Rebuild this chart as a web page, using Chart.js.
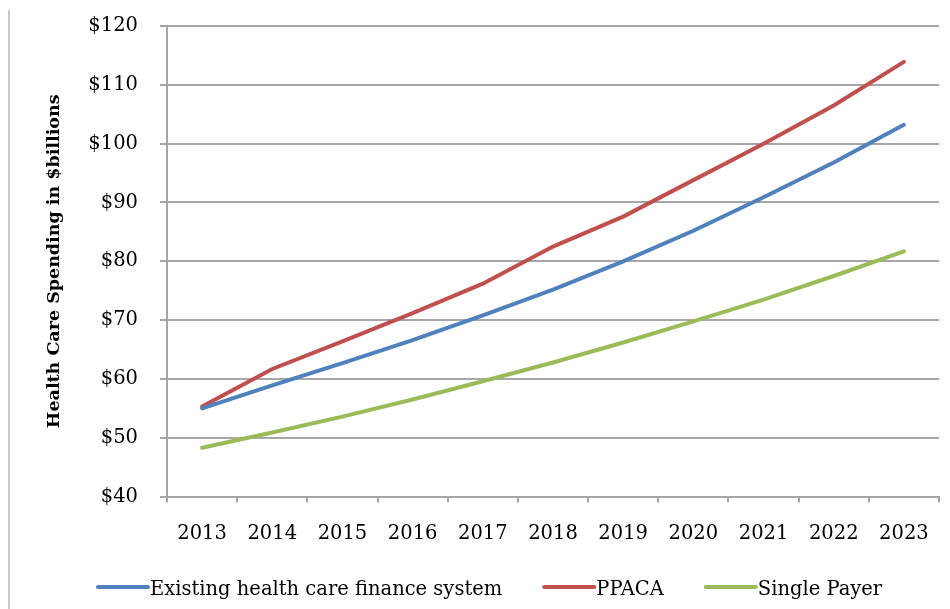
<!DOCTYPE html>
<html>
<head>
<meta charset="utf-8">
<script src="https://cdn.jsdelivr.net/npm/chart.js@4"></script>
<style>
    body { margin: 0; background: #fff; }
    #wrap { position: relative; width: 950px; height: 609px; }
    #frame { position: absolute; left: 8px; top: 10px; bottom: 0; border-left: 2px solid #c8c8c8; }
</style>
</head>
<body>
<div id="wrap">
    <div id="frame"></div>
    <canvas id="chart" width="950" height="609"></canvas>
</div>
<script>
// Chart data
const years = ['2013', '2014', '2015', '2016', '2017', '2018', '2019', '2020', '2021', '2022', '2023'];
const existingSystem = [55.0, 58.9, 62.7, 66.6, 70.8, 75.2, 80.0, 85.2, 90.9, 96.8, 103.2];
const ppaca = [55.3, 61.7, 66.4, 71.2, 76.2, 82.5, 87.6, 93.8, 100.0, 106.5, 113.9];
const singlePayer = [48.3, 50.9, 53.6, 56.5, 59.6, 62.8, 66.2, 69.8, 73.5, 77.5, 81.7];

const FONT = 'DejaVu Serif';
const AXIS_GRAY = '#a6a6a6';

function lineSet(label, data, color) {
    return {
        label: label,
        data: data,
        borderColor: color,
        backgroundColor: color,
        borderWidth: 4,
        pointRadius: 0,
        tension: 0,
        borderCapStyle: 'round',
    };
}

// Legend drawn by hand: short line, small gap, label, wide gap between items
const lineLegend = {
    id: 'lineLegend',
    afterDraw(chart) {
        const ctx = chart.ctx;
        const y = 590;
        let x = 98;
        ctx.save();
        ctx.font = '19.5px "' + FONT + '"';
        ctx.textBaseline = 'middle';
        ctx.textAlign = 'left';
        chart.data.datasets.forEach(ds => {
            ctx.strokeStyle = ds.borderColor;
            ctx.lineWidth = 4;
            ctx.lineCap = 'round';
            ctx.beginPath();
            ctx.moveTo(x, y - 3);
            ctx.lineTo(x + 50, y - 3);
            ctx.stroke();
            ctx.fillStyle = '#000';
            ctx.fillText(ds.label, x + 52, y);
            x += 52 + ctx.measureText(ds.label).width + 42;
        });
        ctx.restore();
    },
};

new Chart(document.getElementById('chart'), {
    type: 'line',
    data: {
        labels: years,
        datasets: [
            lineSet('Existing health care finance system', existingSystem, '#4F81BD'),
            lineSet('PPACA', ppaca, '#C0504D'),
            lineSet('Single Payer', singlePayer, '#9BBB59'),
        ],
    },
    options: {
        responsive: false,
        animation: false,
        layout: { padding: { left: 40, right: 11, top: 26, bottom: 43 } },
        plugins: {
            tooltip: { enabled: false },
            legend: { display: false },
        },
        scales: {
            x: {
                offset: true,
                grid: {
                    offset: true,
                    drawOnChartArea: false,
                    drawTicks: true,
                    tickLength: 6,
                    color: AXIS_GRAY,
                    lineWidth: 2,
                },
                border: { color: AXIS_GRAY, width: 2 },
                ticks: {
                    color: '#000',
                    padding: 20,
                    maxRotation: 0,
                    font: { family: FONT, size: 19.5 },
                },
            },
            y: {
                min: 40,
                max: 120,
                afterFit: function(scale) { scale.width = 127; },
                grid: {
                    color: AXIS_GRAY,
                    lineWidth: 2,
                    // long tick slot for label spacing, only the 7px next to the axis drawn
                    tickLength: 29,
                    tickBorderDash: [0, 22, 7, 10],
                },
                border: { color: AXIS_GRAY, width: 2 },
                ticks: {
                    stepSize: 10,
                    color: '#000',
                    padding: 0,
                    font: { family: FONT, size: 19.5 },
                    callback: v => '$' + v,
                },
                title: {
                    display: true,
                    text: 'Health Care Spending in $billions',
                    color: '#000',
                    font: { family: FONT, size: 17.5, weight: 'bold' },
                },
            },
        },
    },
    plugins: [lineLegend],
});
</script>
</body>
</html>
